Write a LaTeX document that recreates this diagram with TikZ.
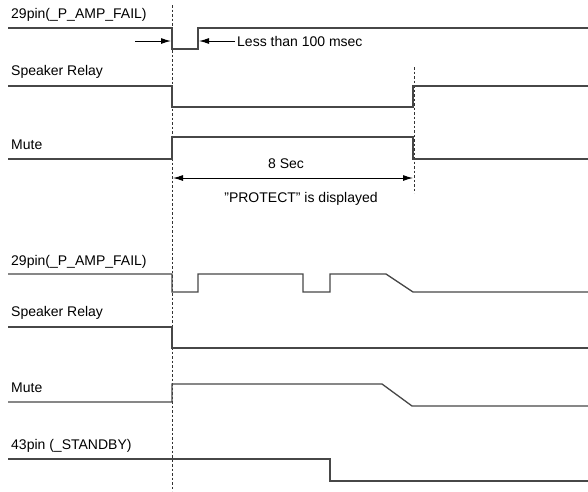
\documentclass[tikz,border=0pt]{standalone}
\usepackage{fontspec}
\setmainfont{Liberation Sans}
\usetikzlibrary{arrows.meta}
\begin{document}
\begin{tikzpicture}[x=1pt,y=-1pt,
  sig/.style={draw=black!72,line width=1.3pt,line join=miter},
  guide/.style={draw=black!80,line width=0.8pt,dash pattern=on 2.5pt off 2pt},
  lbl/.style={anchor=west,inner sep=0pt,font=\fontsize{14}{16}\selectfont},
  txt/.style={inner sep=0pt,font=\fontsize{14}{16}\selectfont},
  dim/.style={draw=black,line width=1pt,-{Latex[length=10pt,width=6pt]}},
  dimboth/.style={draw=black,line width=1pt,{Latex[length=10pt,width=6pt]}-{Latex[length=10pt,width=6pt]}}]
\useasboundingbox (0,0) rectangle (588,491);
\fill[white] (0,0) rectangle (588,491);
% guides
\draw[guide] (172,5) -- (172,491);
\draw[guide] (414,67) -- (414,193);
% top section
\node[lbl] (l1) at (11,15) {29pin(\_P\_AMP\_FAIL)};
\draw[sig] (8,28) -- (172,28) -- (172,49) -- (198,49) -- (198,28) -- (588,28);
\coordinate (a1s) at (135,41); \coordinate (a1e) at (171,41);
\coordinate (a2s) at (235,41); \coordinate (a2e) at (199,41);
\draw[dim] (a1s) -- (a1e);
\draw[dim] (a2s) -- (a2e);
\node[txt,anchor=west] (less) at (237,41) {Less than 100 msec};
\node[lbl] (l2) at (11,72) {Speaker Relay};
\draw[sig] (8,86) -- (172,86) -- (172,107) -- (413,107) -- (413,86) -- (588,86);
\node[lbl] (l3) at (11,145) {Mute};
\draw[sig] (8,159) -- (172,159) -- (172,137) -- (413,137) -- (413,159) -- (588,159);
\node[txt] (sec) at (286,164) {8 Sec};
\coordinate (d1) at (173,178); \coordinate (d2) at (413,178);
\draw[dimboth] (d1) -- (d2);
\node[txt] (prot) at (301,199) {"PROTECT" is displayed};
% bottom section
\node[lbl] (l4) at (11,262) {29pin(\_P\_AMP\_FAIL)};
\draw[sig] (8,274) -- (172,274) -- (172,292) -- (198,292) -- (198,274) -- (303,274) -- (303,292) -- (330,292) -- (330,274) -- (386,274) -- (413,292) -- (588,292);
\node[lbl] (l5) at (11,313) {Speaker Relay};
\draw[sig] (8,327) -- (172,327) -- (172,348) -- (588,348);
\node[lbl] (l6) at (11,388) {Mute};
\draw[sig] (8,402) -- (172,402) -- (172,384) -- (382,384) -- (412,406) -- (588,406);
\node[lbl] (l7) at (11,446) {43pin (\_STANDBY)};
\draw[sig] (8,459) -- (330,459) -- (330,481) -- (588,481);
\end{tikzpicture}
\end{document}
